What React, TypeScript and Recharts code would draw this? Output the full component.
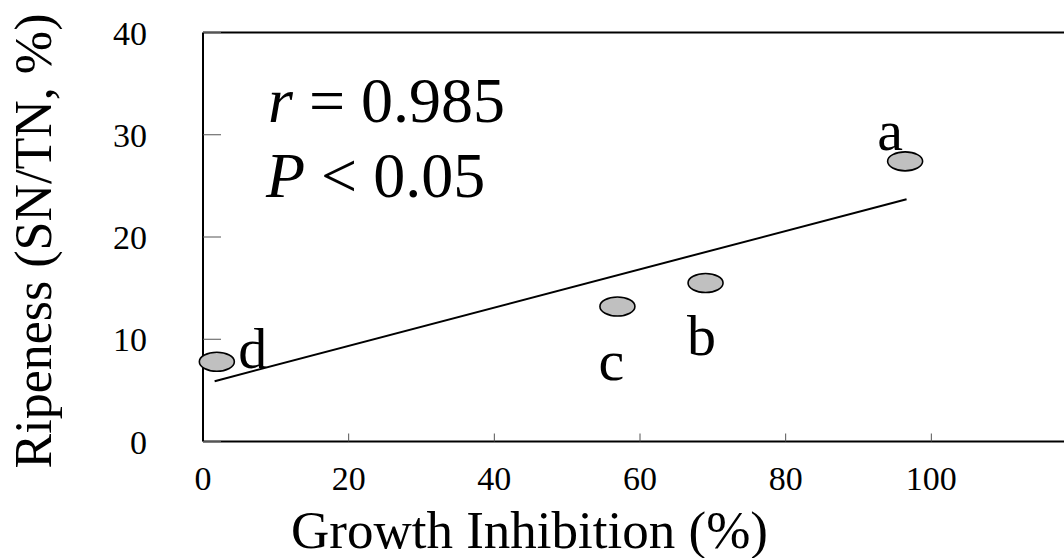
import React from 'react';
import {
  ComposedChart,
  Scatter,
  XAxis,
  YAxis,
  ReferenceLine,
  Customized,
} from 'recharts';

// ---- data ----
const treatments = ['a', 'b', 'c', 'd'];
const growthInhibition = [96.4, 69.0, 56.9, 1.9];
const ripeness = [27.4, 15.5, 13.2, 7.8];
const fitLineX = [1.6, 96.6];
const fitLineY = [5.9, 23.7];
const xTicks = [0, 20, 40, 60, 80, 100];
const yTicks = [0, 10, 20, 30, 40];
const xTitle = 'Growth Inhibition (%)';
const yTitle = 'Ripeness (SN/TN, %)';

// label placement relative to each marker (style, not data)
const labelOffset: Record<string, [number, number]> = {
  a: [-15, -31],
  b: [-4, 52],
  c: [-6, 54],
  d: [36, -13],
};

const points = treatments.map((t, i) => ({
  label: t,
  x: growthInhibition[i],
  y: ripeness[i],
}));
const fitSegment = fitLineX.map((x, i) => ({ x, y: fitLineY[i] }));

const FONT = '"Liberation Serif", "Times New Roman", serif';

const EllipseMarker = (props: any) => {
  const { cx, cy, payload } = props;
  const off = labelOffset[payload.label] || [0, 0];
  return (
    <g>
      <ellipse
        cx={cx}
        cy={cy}
        rx={17.5}
        ry={9.5}
        fill="#c0c0c0"
        stroke="#000"
        strokeWidth={1.6}
      />
      <text
        x={cx + off[0]}
        y={cy + off[1]}
        textAnchor="middle"
        dominantBaseline="central"
        fontFamily={FONT}
        fontSize={58}
        fill="#000"
      >
        {payload.label}
      </text>
    </g>
  );
};

const Annotations = () => (
  <g fontFamily={FONT} fill="#000">
    <text x={268} y={122} fontSize={64}>
      <tspan fontStyle="italic">r</tspan> = 0.985
    </text>
    <text x={266} y={197} fontSize={64}>
      <tspan fontStyle="italic">P</tspan> &lt; 0.05
    </text>
    <text x={529.5} y={548} fontSize={53} textAnchor="middle">
      {xTitle}
    </text>
    <text
      x={51}
      y={241}
      fontSize={52}
      textAnchor="middle"
      transform="rotate(-90 51 241)"
    >
      {yTitle}
    </text>
  </g>
);

export default function App() {
  return (
    <div
      style={{
        position: 'fixed',
        left: 0,
        top: 0,
        width: 1064,
        height: 558,
        overflow: 'hidden',
        background: '#fff',
      }}
    >
      <ComposedChart
        width={1120}
        height={558}
        margin={{ top: 32.5, right: 43, left: 0, bottom: 0 }}
      >
        <XAxis
          type="number"
          dataKey="x"
          domain={[0, 120]}
          ticks={xTicks}
          interval={0}
          height={116.5}
          axisLine={{ stroke: '#000', strokeWidth: 2 }}
          tickLine={{ stroke: '#555', strokeWidth: 1 }}
          tickSize={-8}
          tickMargin={32.5}
          tick={{ fill: '#000', fontSize: 34, fontFamily: FONT }}
        />
        <YAxis
          type="number"
          dataKey="y"
          domain={[0, 40]}
          ticks={yTicks}
          interval={0}
          width={203}
          axisLine={{ stroke: '#000', strokeWidth: 2 }}
          tickLine={{ stroke: '#555', strokeWidth: 1 }}
          tickSize={-18}
          tickMargin={74}
          tick={{ fill: '#000', fontSize: 34, fontFamily: FONT }}
        />
        <ReferenceLine y={40} stroke="#000" strokeWidth={2} ifOverflow="visible" />
        <ReferenceLine x={120} stroke="#000" strokeWidth={2} ifOverflow="visible" />
        <ReferenceLine
          segment={fitSegment}
          stroke="#000"
          strokeWidth={2}
          ifOverflow="visible"
        />
        <Scatter
          data={points}
          dataKey="y"
          shape={EllipseMarker}
          isAnimationActive={false}
        />
        <Customized component={Annotations} />
      </ComposedChart>
    </div>
  );
}
